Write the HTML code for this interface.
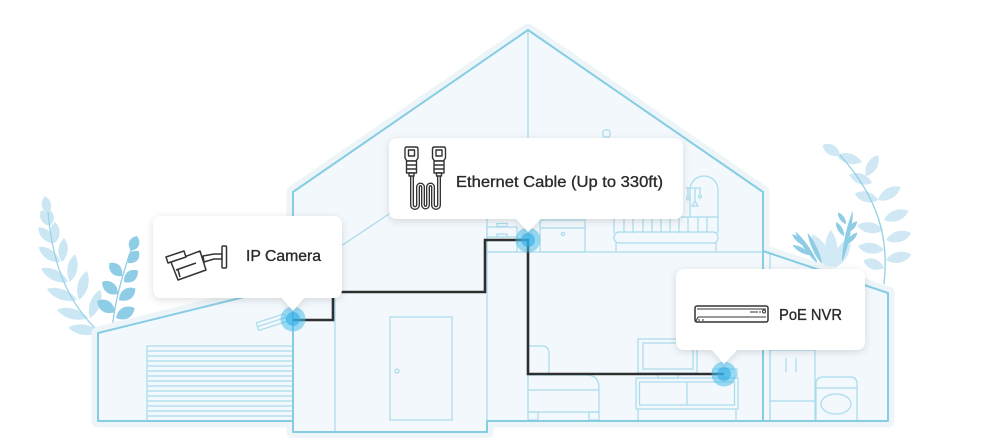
<!DOCTYPE html>
<html><head><meta charset="utf-8">
<style>
html,body{margin:0;padding:0;background:#fff;}
#c{position:relative;width:1000px;height:438px;overflow:hidden;background:#fff;}
svg{position:absolute;left:0;top:0;}
.t{font-family:"Liberation Sans",sans-serif;fill:#2b2b2b;stroke:#2b2b2b;stroke-width:0.35;}
</style></head><body><div id="c">
<svg width="1000" height="438" viewBox="0 0 1000 438" xmlns="http://www.w3.org/2000/svg">
<defs>
<filter id="sh" x="-20%" y="-30%" width="140%" height="170%">
<feDropShadow dx="0" dy="2" stdDeviation="4" flood-color="#000" flood-opacity="0.13"/>
</filter>
<path id="lf" d="M0,0 C6,-6.5 15,-6 20,0 C15,6 6,6.5 0,0Z"/>
<path id="nl" d="M0,0 C5,-2.6 15,-2.6 20,0 C15,2.6 5,2.6 0,0Z"/>
</defs>

<!-- Left plant -->
<g fill="#cce7f4">
<use href="#lf" transform="translate(100,332) rotate(188) scale(1.6,1.1)"/>
<use href="#lf" transform="translate(88,318) rotate(195) scale(1.6,1.1)"/>
<use href="#lf" transform="translate(77,300) rotate(200) scale(1.6,1.1)"/>
<use href="#lf" transform="translate(68,282) rotate(207) scale(1.5,1.1)"/>
<use href="#lf" transform="translate(60,262) rotate(215) scale(1.3,1.05)"/>
<use href="#lf" transform="translate(54,243) rotate(225) scale(1.1,1)"/>
<use href="#lf" transform="translate(50,226) rotate(240) scale(0.9,1)"/>
<use href="#lf" transform="translate(90,318) rotate(-70) scale(1.5,1.1)"/>
<use href="#lf" transform="translate(79,300) rotate(-75) scale(1.5,1.1)"/>
<use href="#lf" transform="translate(70,282) rotate(-80) scale(1.4,1.05)"/>
<use href="#lf" transform="translate(62,262) rotate(-85) scale(1.2,1)"/>
<use href="#lf" transform="translate(55,243) rotate(-90) scale(1.05,1)"/>
<use href="#lf" transform="translate(50,226) rotate(-95) scale(0.85,1)"/>
<use href="#lf" transform="translate(48,214) rotate(-100) scale(0.9,1)"/>
</g>
<path d="M97,330 C72,306 53,272 48,212" fill="none" stroke="#9ad3e8" stroke-width="1.3"/>
<g fill="#8ecde5">
<use href="#lf" transform="translate(115,312) rotate(212) scale(1.05,1.25)"/>
<use href="#lf" transform="translate(118,294) rotate(218) scale(1.0,1.2)"/>
<use href="#lf" transform="translate(122,276) rotate(226) scale(0.9,1.15)"/>
<use href="#lf" transform="translate(116,318) rotate(-28) scale(1.05,1.25)"/>
<use href="#lf" transform="translate(119,300) rotate(-35) scale(1.0,1.2)"/>
<use href="#lf" transform="translate(124,282) rotate(-40) scale(0.9,1.15)"/>
<use href="#lf" transform="translate(128,263) rotate(-48) scale(0.8,1.1)"/>
<use href="#lf" transform="translate(131,251) rotate(-68) scale(0.8,1.1)"/>
</g>
<path d="M112,332 C114,305 122,275 132,248" fill="none" stroke="#8ecde5" stroke-width="1.3"/>

<!-- Right plant -->
<g fill="#cfe8f4">
<use href="#lf" transform="translate(862,162) rotate(195) scale(1.3,1.1)"/>
<use href="#lf" transform="translate(872,183) rotate(200) scale(1.2,1.1)"/>
<use href="#lf" transform="translate(878,200) rotate(195) scale(1.2,1.1)"/>
<use href="#lf" transform="translate(883,230) rotate(190) scale(1.3,1.15)"/>
<use href="#lf" transform="translate(884,250) rotate(188) scale(1.3,1.15)"/>
<use href="#lf" transform="translate(884,268) rotate(200) scale(1.1,1.1)"/>
<use href="#lf" transform="translate(866,176) rotate(-60) scale(1.2,1.1)"/>
<use href="#lf" transform="translate(878,200) rotate(-30) scale(1.3,1.15)"/>
<use href="#lf" transform="translate(884,220) rotate(-20) scale(1.3,1.15)"/>
<use href="#lf" transform="translate(886,240) rotate(-15) scale(1.3,1.15)"/>
<use href="#lf" transform="translate(886,260) rotate(-12) scale(1.3,1.15)"/>
<use href="#lf" transform="translate(840,155) rotate(-150) scale(1,1.1)"/>
</g>
<path d="M884,284 C889,240 880,200 840,155" fill="none" stroke="#92d0e6" stroke-width="1.3"/>
<!-- spiky plant -->
<g fill="#d2eaf5">
<use href="#lf" transform="translate(830,268) rotate(-118) scale(1.9,1.4)"/>
<use href="#lf" transform="translate(832,268) rotate(-92) scale(1.9,1.3)"/>
<use href="#lf" transform="translate(834,268) rotate(-62) scale(1.7,1.3)"/>
</g>
<g fill="#8ecde5">
<use href="#nl" transform="translate(818,264) rotate(-125) scale(2,1.2)"/>
<use href="#nl" transform="translate(822,264) rotate(-115) scale(1.7,1.2)"/>
<use href="#nl" transform="translate(810,255) rotate(-150) scale(1,1.2)"/>
<use href="#nl" transform="translate(806,246) rotate(-140) scale(0.9,1.2)"/>
<use href="#nl" transform="translate(842,262) rotate(-78) scale(2.6,1.2)"/>
<use href="#nl" transform="translate(846,244) rotate(-45) scale(0.8,1.2)"/>
<use href="#nl" transform="translate(848,232) rotate(-50) scale(0.7,1.2)"/>
<use href="#nl" transform="translate(844,236) rotate(-120) scale(0.8,1.2)"/>
<use href="#nl" transform="translate(846,224) rotate(-125) scale(0.7,1.2)"/>
</g>

<!-- House halo + fill -->
<polygon points="98,421 98,333 293,285 293,192 528,30 763,192 763,251 888,293 888,421 487,421 487,432 293,432 293,421" fill="#edf5f9" stroke="#edf5f9" stroke-width="13" stroke-linejoin="round"/>
<polygon points="98,421 98,333 293,285 293,192 528,30 763,192 763,251 888,293 888,421 487,421 487,432 293,432 293,421" fill="#f2f8fc"/>

<!-- Interior lines -->
<g fill="none" stroke="#a8dbec" stroke-width="1.2">
<line x1="528" y1="30" x2="528" y2="252"/>
<line x1="487" y1="252" x2="763" y2="252"/>
<line x1="487" y1="200" x2="487" y2="421"/>
<line x1="335" y1="250" x2="335" y2="432"/>
<line x1="335" y1="250" x2="440" y2="180"/>
<line x1="770" y1="253" x2="770" y2="421"/>
<rect x="147" y="346" width="146" height="75"/>
<path d="M147,351H293M147,356H293M147,361H293M147,366H293M147,371H293M147,376H293M147,381H293M147,386H293M147,391H293M147,396H293M147,401H293M147,406H293M147,411H293M147,416H293"/>
<rect x="390" y="317" width="62" height="103"/>
<circle cx="397" cy="371" r="2"/>
<rect x="487" y="227" width="30" height="25"/>
<line x1="487" y1="237" x2="517" y2="237"/>
<rect x="497" y="223.5" width="10" height="3"/>
<rect x="497" y="234" width="10" height="3"/>
<rect x="540" y="220" width="45" height="32"/>
<line x1="540" y1="228" x2="585" y2="228"/>
<circle cx="563" cy="234" r="1.6"/>
<line x1="614" y1="217" x2="718" y2="217"/>
<path d="M614,215V233M624,217V233M633,217V233M643,217V233M652,217V233M661,217V233M670,217V233M679,217V233M688,217V233M698,217V233M707,217V233M718,215V233"/>
<rect x="614" y="232" width="104" height="11" rx="5"/>
<path d="M616,243V251M716,243V251"/>
<path d="M690,217V190A14,14 0 0 1 718,190V217"/>
<path d="M686,188H701M688,188V197M695,188V201M700,188V195"/>
<circle cx="688" cy="198.5" r="1.5"/>
<circle cx="700" cy="196.5" r="1.5"/>
<path d="M692,206L695,201L698,206Z"/>
<rect x="603" y="130" width="7" height="7" rx="2"/>
<path d="M528,375V346H542Q549,346 549,354V375"/>
<path d="M528,375H586Q599,375 599,388V412H528Z"/>
<line x1="528" y1="390" x2="599" y2="390"/>
<rect x="528" y="412" width="10" height="8"/>
<rect x="589" y="412" width="10" height="8"/>
<rect x="638" y="339" width="59" height="34"/>
<rect x="643" y="343" width="50" height="26"/>
<rect x="658" y="373" width="20" height="5"/>
<rect x="636" y="378" width="102" height="31"/>
<rect x="639.5" y="382" width="95" height="23"/>
<line x1="687" y1="382" x2="687" y2="405"/>
<path d="M638,409V420M736,409V420"/>
<rect x="713" y="369" width="24" height="9"/>
<rect x="770" y="350" width="45" height="71"/>
<line x1="770" y1="401" x2="815" y2="401"/>
<path d="M786,358V372M796,358V372"/>
<path d="M816,421V384Q816,377 823,377H850Q857,377 857,384V421"/>
<line x1="816" y1="388" x2="857" y2="388"/>
<ellipse cx="836" cy="404" rx="15" ry="10"/>
<g transform="rotate(-18 272 323)"><rect x="257" y="318" width="30" height="8" rx="1"/><line x1="257" y1="322" x2="287" y2="322"/></g>
</g>

<!-- Outline -->
<g fill="none" stroke="#86cde3" stroke-width="2" stroke-linejoin="round">
<polyline points="293,421 98,421 98,333 293,285"/>
<polygon points="293,432 293,192 528,30 763,192 763,421 487,421 487,432"/>
<polyline points="763,251 888,293 888,421 763,421"/>
</g>

<!-- Cable -->
<path d="M293,320H333V292H485V240H528V374H724" fill="none" stroke="#2f2f2f" stroke-width="2.6" stroke-linejoin="miter"/>

<!-- Dots -->
<g>
<circle cx="293" cy="319" r="12.5" fill="#4cbdeb" fill-opacity="0.55"/>
<circle cx="293" cy="319" r="7" fill="#2eaee6" fill-opacity="0.6"/>
<circle cx="528" cy="240" r="12.5" fill="#4cbdeb" fill-opacity="0.55"/>
<circle cx="528" cy="240" r="7" fill="#2eaee6" fill-opacity="0.6"/>
<circle cx="724" cy="374" r="12.5" fill="#4cbdeb" fill-opacity="0.55"/>
<circle cx="724" cy="374" r="7" fill="#2eaee6" fill-opacity="0.6"/>
</g>

<!-- Callouts -->
<g filter="url(#sh)" fill="#fff">
<path d="M398,138H674Q683,138 683,147V210Q683,219 674,219H541L528,232L516,219H398Q389,219 389,210V147Q389,138 398,138Z"/>
<path d="M162,216H333Q342,216 342,225V289Q342,298 333,298H304L293,311L282,298H162Q153,298 153,289V225Q153,216 162,216Z"/>
<path d="M685,269H856Q865,269 865,278V341Q865,350 856,350H737L724,364L712,350H685Q676,350 676,341V278Q676,269 685,269Z"/>
</g>

<!-- Ethernet icon -->
<g fill="#fff" stroke="#333" stroke-width="1.4" stroke-linejoin="round">
<path d="M412,175V205a3,3 0 0 0 6,0V187a2.5,2.5 0 0 1 5,0V205a2.5,2.5 0 0 0 5,0V187a2.5,2.5 0 0 1 5,0V205a3,3 0 0 0 6,0V175" fill="none" stroke="#333" stroke-width="4"/>
<path d="M412,175V205a3,3 0 0 0 6,0V187a2.5,2.5 0 0 1 5,0V205a2.5,2.5 0 0 0 5,0V187a2.5,2.5 0 0 1 5,0V205a3,3 0 0 0 6,0V175" fill="none" stroke="#fff" stroke-width="1.3"/>
<path d="M405,149Q405,147 407,147H416Q418,147 418,149V158L416,161H407L405,158Z"/>
<rect x="408.5" y="150" width="6" height="6"/>
<rect x="406.5" y="161" width="10" height="12"/>
<path d="M406.5,165H416.5M406.5,169H416.5" fill="none"/>
<rect x="409" y="173" width="5" height="3"/>
<path d="M432.5,149Q432.5,147 434.5,147H443.5Q445.5,147 445.5,149V158L443.5,161H434.5L432.5,158Z"/>
<rect x="436" y="150" width="6" height="6"/>
<rect x="434" y="161" width="10" height="12"/>
<path d="M434,165H444M434,169H444" fill="none"/>
<rect x="436.5" y="173" width="5" height="3"/>
</g>

<!-- Camera icon -->
<g fill="#fff" stroke="#333" stroke-width="1.5" stroke-linejoin="round">
<path d="M204,262L214,259H222V254H214L203,256Z"/>
<rect x="222" y="246" width="4.5" height="22" rx="1"/>
<polygon points="171,262 200,251 206,270 178,280"/>
<polygon points="166,257 184,251 186,257 168,263"/>
<path d="M176,270L196,263M180,277L178,270" fill="none"/>
</g>

<!-- NVR icon -->
<g fill="#fff" stroke="#333" stroke-width="1.5">
<rect x="695" y="306" width="73" height="16" rx="2"/>
<path d="M697,309H766M698,317H766M698,317L696,321" fill="none" stroke-width="1"/>
<path d="M750,312H758M759,312H761" fill="none" stroke-width="1"/>
<circle cx="764" cy="311.5" r="1.5" stroke-width="1"/>
<path d="M698,320H700M702,320H704" fill="none" stroke-width="1"/>
</g>

<!-- Labels -->
<text class="t" x="456" y="187" font-size="16" textLength="207" lengthAdjust="spacingAndGlyphs">Ethernet Cable (Up to 330ft)</text>
<text class="t" x="246" y="261" font-size="15.5" textLength="75" lengthAdjust="spacingAndGlyphs">IP Camera</text>
<text class="t" x="779" y="320" font-size="15.5" textLength="63" lengthAdjust="spacingAndGlyphs">PoE NVR</text>
</svg>
</div></body></html>
